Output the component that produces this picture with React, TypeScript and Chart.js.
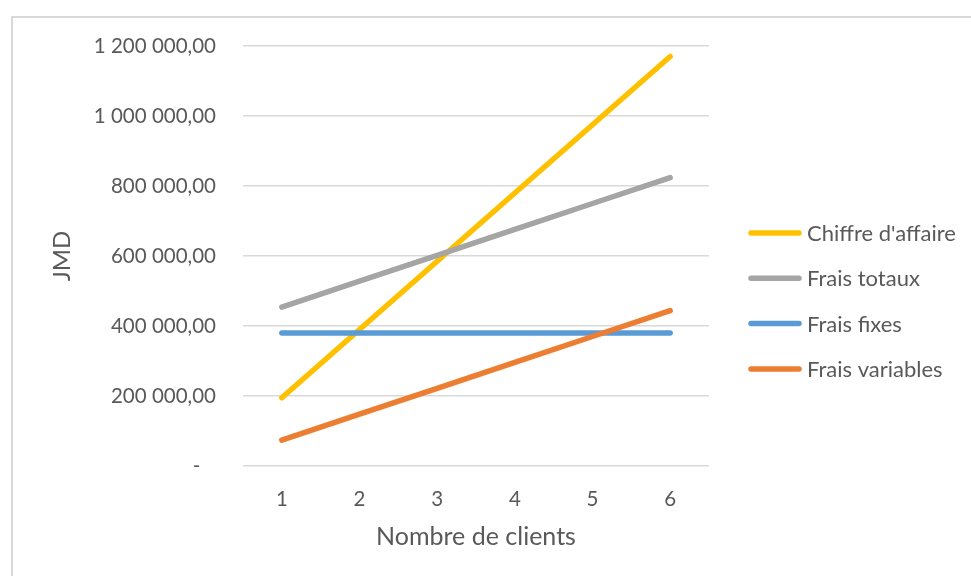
import React, { useEffect, useRef } from 'react';
import { Chart, registerables } from 'chart.js';

Chart.register(...registerables);

const categories = ['1', '2', '3', '4', '5', '6'];
const chiffreAffaire = [195000, 390000, 585000, 780000, 975000, 1170000];
const fraisTotaux = [454000, 528000, 602000, 676000, 750000, 824000];
const fraisFixes = [380000, 380000, 380000, 380000, 380000, 380000];
const fraisVariables = [74000, 148000, 222000, 296000, 370000, 444000];
const seriesNames = ["Chiffre d'affaire", 'Frais totaux', 'Frais fixes', 'Frais variables'];
const seriesColors = ['#FFC000', '#A5A5A5', '#5B9BD5', '#ED7D31'];
const yTitle = 'JMD';
const xTitle = 'Nombre de clients';
const yMin = 0;
const yMax = 1200000;
const yStep = 200000;

const FONT = 'Lato';
const TEXT = '#595959';
const GRID = '#d9d9d9';

function fmt(v: number): string {
  if (v === 0) return '-\u00a0\u00a0\u00a0';
  const s = Math.round(v).toString().replace(/\B(?=(\d{3})+(?!\d))/g, ' ');
  return s + ',00';
}

export default function App() {
  const ref = useRef<HTMLCanvasElement | null>(null);

  useEffect(() => {
    if (!ref.current) return;
    const deco = {
      id: 'deco',
      beforeDraw(chart: any) {
        const ctx = chart.ctx;
        ctx.save();
        ctx.fillStyle = '#ffffff';
        ctx.fillRect(0, 0, chart.width, chart.height);
        ctx.strokeStyle = GRID;
        ctx.lineWidth = 2;
        ctx.strokeRect(12, 17, chart.width + 50, chart.height + 50);
        ctx.restore();
      },
      afterDraw(chart: any) {
        const ctx = chart.ctx;
        const a = chart.chartArea;
        ctx.save();
        // y axis title
        ctx.translate(62, (a.top + a.bottom) / 2);
        ctx.rotate(-Math.PI / 2);
        ctx.font = `24px ${FONT}`;
        ctx.fillStyle = TEXT;
        ctx.textAlign = 'center';
        ctx.textBaseline = 'middle';
        ctx.fillText(yTitle, 0, 0);
        ctx.restore();

        // legend
        ctx.save();
        const lx = a.right + 42;
        const rowH = 45.3;
        const y0 = (a.top + a.bottom) / 2 - 23;
        chart.data.datasets.forEach((ds: any, i: number) => {
          const y = y0 + i * rowH;
          ctx.strokeStyle = ds.borderColor;
          ctx.lineWidth = ds.borderWidth;
          ctx.lineCap = 'round';
          ctx.beginPath();
          ctx.moveTo(lx, y);
          ctx.lineTo(lx + 48, y);
          ctx.stroke();
          ctx.fillStyle = TEXT;
          ctx.font = `22px ${FONT}`;
          ctx.textAlign = 'left';
          ctx.textBaseline = 'middle';
          ctx.fillText(ds.label, lx + 56, y + 1);
        });
        ctx.restore();
      },
    };
    const series = [chiffreAffaire, fraisTotaux, fraisFixes, fraisVariables];
    const chart = new Chart(ref.current, {
      type: 'line',
      data: {
        labels: categories,
        datasets: series.map((d, i) => ({
          label: seriesNames[i],
          data: d,
          borderColor: seriesColors[i],
          backgroundColor: seriesColors[i],
          borderWidth: 5.5,
          borderCapStyle: 'round',
          borderJoinStyle: 'round',
          pointRadius: 0,
          pointHoverRadius: 0,
          fill: false,
          tension: 0,
          order: series.length - i,
        })) as any,
      },
      options: {
        animation: false,
        responsive: false,
        devicePixelRatio: 1,
        layout: { padding: { top: 46, bottom: 20, left: 0, right: 262 } },
        plugins: {
          tooltip: { enabled: false },
          legend: { display: false },
        },
        scales: {
          x: {
            offset: true,
            grid: { display: false, drawTicks: false },
            border: { display: false },
            ticks: { color: TEXT, font: { family: FONT, size: 20.5 }, padding: 21 },
            title: {
              display: true,
              text: xTitle,
              color: TEXT,
              font: { family: FONT, size: 25 },
              padding: { top: 0, bottom: 4 },
            },
            afterFit: (s: any) => { s.height = 90; },
          },
          y: {
            min: yMin,
            max: yMax,
            grid: { color: GRID, lineWidth: 1.5, drawTicks: false },
            border: { display: false },
            ticks: {
              stepSize: yStep,
              color: TEXT,
              font: { family: FONT, size: 20.5 },
              padding: 27,
              callback: (v: any) => fmt(Number(v)),
            },
            afterFit: (s: any) => { s.width = 243; },
          },
        },
      } as any,
      plugins: [deco],
    });
    return () => chart.destroy();
  }, []);

  return (
    <div style={{ position: 'absolute', left: 0, top: 0, width: 971, height: 576, background: '#fff' }}>
      <canvas ref={ref} width={971} height={576} style={{ width: 971, height: 576, display: 'block' }} />
    </div>
  );
}
